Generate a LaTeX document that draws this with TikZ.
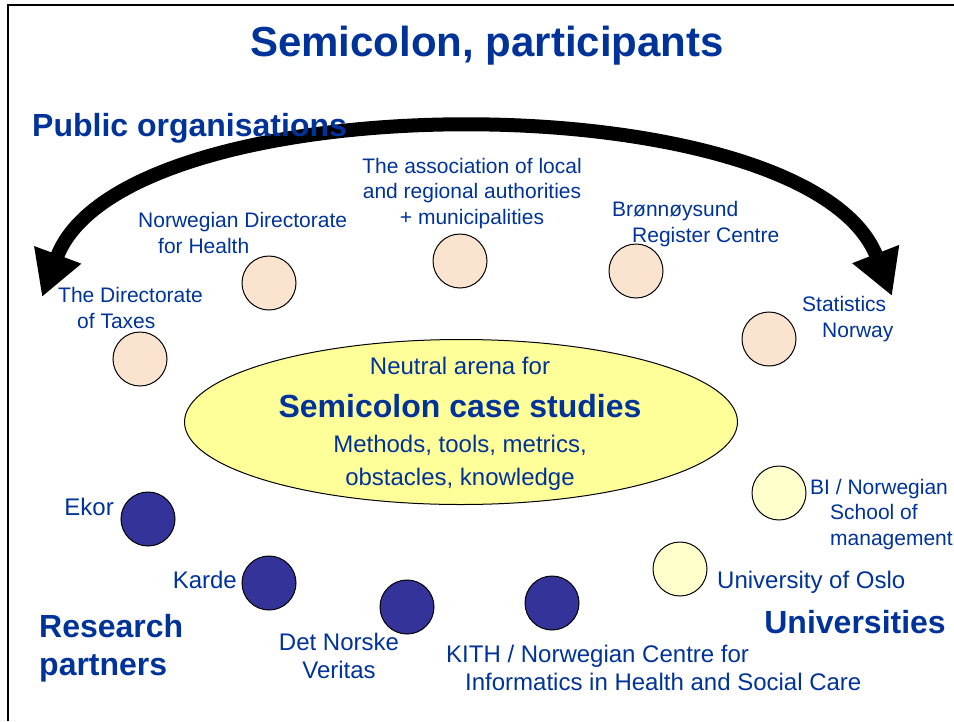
\documentclass[tikz,border=0pt]{standalone}
\usepackage{fontspec}
\setmainfont{Liberation Sans}
\usepackage{xcolor}
\usetikzlibrary{arrows.meta,shapes.geometric}
\definecolor{semiblue}{RGB}{0,51,153}
\definecolor{orgfill}{RGB}{250,228,208}
\definecolor{partnerfill}{RGB}{51,51,153}
\definecolor{unifill}{RGB}{255,255,204}
\definecolor{arenafill}{RGB}{255,255,153}

\begin{document}
\begin{tikzpicture}[x = 1pt, y = -1pt,
  org/.style = {circle, draw, line width = 1pt, fill = orgfill, minimum size = 54pt, inner sep = 0pt},
  partner/.style = {org, fill = partnerfill},
  uni/.style = {org, fill = unifill},
  lab/.style = {text = semiblue, inner sep = 0pt, align = left, font = \fontsize{21}{25.5}\selectfont},
  biglab/.style = {lab, font = \fontsize{24}{28}\selectfont},
  head/.style = {text = semiblue, inner sep = 0pt, align = left, font = \fontsize{32}{38}\selectfont\bfseries}]
  \useasboundingbox (0, 0) rectangle (954, 721);
  \draw [line width = 2pt] (8, 721) -- (8, 5) -- (954, 5);
  \node[text = semiblue, anchor = base, font = \fontsize{42}{50}\selectfont\bfseries] (title) at (487, 56) {Semicolon, participants};
  % the arc over the public organisations
  \coordinate (lefttip) at (42, 297);
  \coordinate (righttip) at (892, 296);
  \draw [line width = 14pt, {Triangle[length = 45pt, width = 47pt]}-{Triangle[length = 45pt, width = 47pt]}] (lefttip) .. controls (123, 80) and (808, 80) .. (righttip);
  \node[head, anchor = base west] (public) at (32, 136) {Public organisations};
  \node[head, anchor = base west] (research) at (39, 675) {Research\\partners};
  \node[head, anchor = base east] (universities) at (946, 633) {Universities};
  % neutral arena
  \node[ellipse, draw, line width = 1pt, fill = arenafill, minimum width = 553pt, minimum height = 165pt] (arena) at (461, 422) {};
  \node[biglab, anchor = base] (arenaa) at (460, 374) {Neutral arena for};
  \node[head, anchor = base] (arenab) at (460, 417) {Semicolon case studies};
  \node[biglab, anchor = base] (arenac) at (460, 452) {Methods, tools, metrics,};
  \node[biglab, anchor = base] (arenad) at (460, 485) {obstacles, knowledge};
  % public organisations
  \node[org] (taxes) at (140, 359) {};
  \node[org] (health) at (269, 283) {};
  \node[org] (assoc) at (460, 261) {};
  \node[org] (bronn) at (636, 271) {};
  \node[org] (stat) at (769, 339) {};
  \node[lab, anchor = base west] (taxestext) at (58, 328) {The Directorate\\\hspace*{19pt}of Taxes};
  \node[lab, anchor = base west] (healthtext) at (138, 253) {Norwegian Directorate\\\hspace*{20pt}for Health};
  \node[lab, align = center, anchor = base] (assoctext) at (472, 224) {The association of local\\and regional authorities\\+ municipalities};
  \node[lab, anchor = base west] (bronntext) at (612, 242) {Brønnøysund\\\hspace*{20pt}Register Centre};
  \node[lab, anchor = base west] (stattext) at (802, 337) {Statistics\\\hspace*{20pt}Norway};
  % research partners
  \node[partner] (ekor) at (148, 519) {};
  \node[partner] (karde) at (269, 583) {};
  \node[partner] (dnv) at (407, 607) {};
  \node[partner] (kith) at (552, 603) {};
  \node[biglab, anchor = base east] (ekortext) at (114, 515) {Ekor};
  \node[biglab, anchor = base east] (kardetext) at (237, 588) {Karde};
  \node[biglab, align = center, anchor = base] (dnvtext) at (339, 678) {Det Norske\\Veritas};
  \node[biglab, anchor = base west] (kithtext) at (446, 690) {KITH / Norwegian Centre for\\\hspace*{19pt}Informatics in Health and Social Care};
  % universities
  \node[uni] (bi) at (779, 493) {};
  \node[uni] (oslo) at (680, 569) {};
  \node[lab, anchor = base west] (bitext) at (810, 545) {BI / Norwegian\\\hspace*{20pt}School of\\\hspace*{20pt}management};
  \node[biglab, anchor = base west] (oslotext) at (717, 588) {University of Oslo};
\end{tikzpicture}
\end{document}
